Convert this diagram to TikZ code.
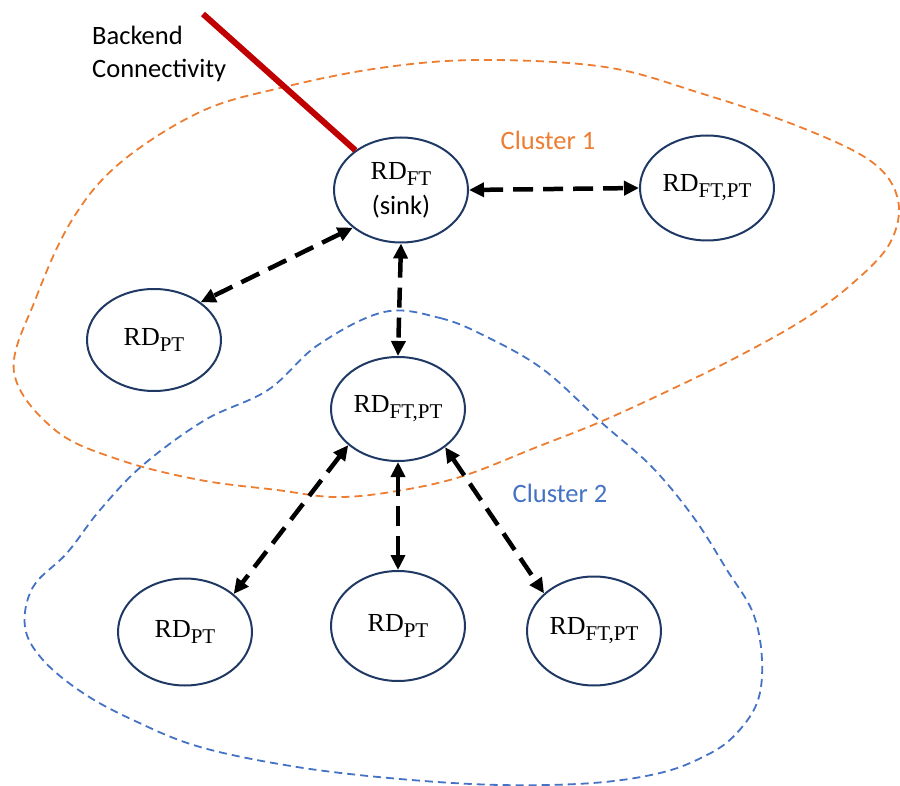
\documentclass[tikz,border=0pt]{standalone}
\usepackage{fontspec}
\setmainfont{Liberation Serif}
\setsansfont{Carlito}
\usetikzlibrary{shapes.geometric,arrows.meta}
\definecolor{corange}{HTML}{ED7D31}
\definecolor{cblue}{HTML}{4472C4}
\definecolor{cnavy}{HTML}{1F3864}
\definecolor{cred}{HTML}{C00000}
\newcommand\rdsub[1]{RD\raisebox{-6pt}{\fontsize{21}{21}\selectfont #1}}
\begin{document}
\begin{tikzpicture}[x=1pt,y=-1pt,
  rdnode/.style={ellipse, draw=cnavy, line width=2pt, minimum width=134pt, minimum height=105pt, inner sep=0pt, font=\fontsize{26}{30}\selectfont},
  link/.style={line width=4.5pt, dash pattern=on 20pt off 10pt, {Triangle[length=15pt,width=14pt]}-{Triangle[length=15pt,width=14pt]}},
  cluster/.style={line width=1.8pt, dash pattern=on 8pt off 5pt},
  lbl/.style={font=\sffamily\fontsize{26.5}{33}\selectfont, inner sep=0pt, anchor=base}
]
\useasboundingbox (0,0) rectangle (900,786);

% clusters
\draw[corange, cluster] plot[smooth cycle, tension=0.6] coordinates {(14,372) (36,298) (72,220) (120,163) (200,112) (280,88) (380,68) (480,60) (605,67) (700,93) (800,127) (872,162) (898,200) (890,243) (853,283) (803,320) (737,357) (670,390) (600,422) (537,447) (460,477) (391,492) (334,497) (277,490) (200,480) (120,460) (55,430)};
\draw[cblue, cluster] plot[smooth cycle, tension=0.6] coordinates {(384,312) (440,318) (487,337) (544,370) (602,423) (652,467) (694,518) (727,570) (753,613) (762,660) (757,703) (733,737) (703,757) (660,773) (593,783) (500,785) (400,779) (297,767) (200,747) (133,720) (83,693) (43,660) (25,627) (33,587) (67,553) (100,510) (143,465) (205,420) (268,390) (318,345)};

% nodes
\node[rdnode, align=center] (sink) at (401,190) {\rdsub{FT}\\[5pt]{\sffamily\fontsize{26.5}{30}\selectfont (sink)}};
\node[rdnode] (tr) at (707,188) {\rdsub{FT,PT}};
\node[rdnode, minimum height=102pt] (lp) at (154,340) {\rdsub{PT}};
\node[rdnode, minimum height=104pt] (mid) at (398,409) {\rdsub{FT,PT}};
\node[rdnode, minimum height=107pt] (bl) at (185,632) {\rdsub{PT}};
\node[rdnode, minimum height=110pt] (bm) at (398,626) {\rdsub{PT}};
\node[rdnode, minimum height=109pt] (br) at (594,631) {\rdsub{FT,PT}};

% backend connectivity
\coordinate (bkend) at (203,14);
\draw[cred, line width=6pt] (bkend) -- (sink.139);
\node[lbl, anchor=base west] (bk1) at (92,45) {Backend};
\node[lbl, anchor=base west] (bk2) at (92,78) {Connectivity};

% cluster labels
\node[lbl, text=corange] (c1) at (548,150) {Cluster 1};
\node[lbl, text=cblue] (c2) at (560,502) {Cluster 2};

% links
\draw[link] (sink.east) -- (tr.west);
\draw[link] (sink.218) -- (lp.39);
\draw[link] (sink.south) -- (mid.north);
\draw[link] (mid.216) -- (bl.38);
\draw[link] (mid.south) -- (bm.north);
\draw[link] (mid.321) -- (br.143);
\end{tikzpicture}
\end{document}
